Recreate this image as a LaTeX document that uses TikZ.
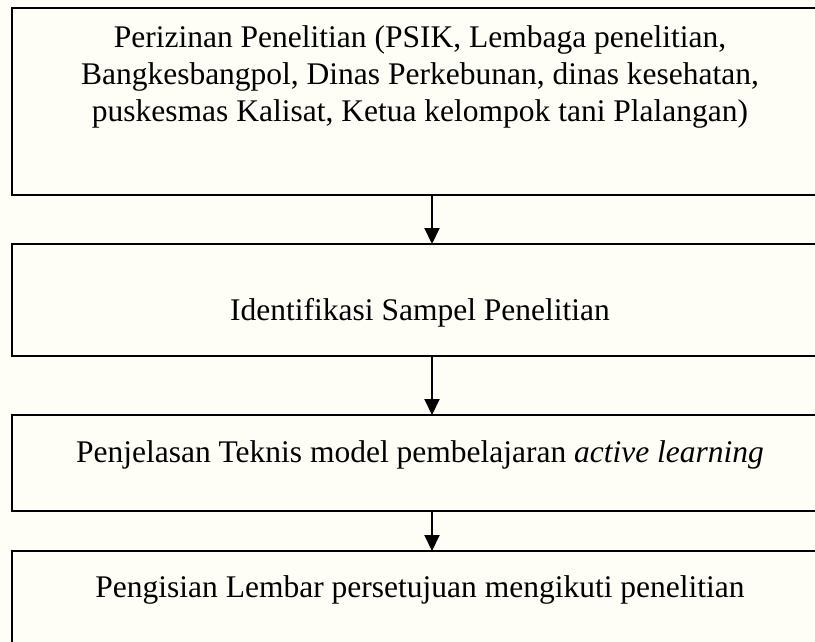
\documentclass[tikz,border=0pt]{standalone}
\usepackage{fontspec}
\setmainfont{Liberation Serif}
\usetikzlibrary{arrows.meta}
\definecolor{bgc}{HTML}{FEFEF7}
\tikzset{
  boxnode/.style={draw=black, line width=2.6pt, rectangle, anchor=north west, inner sep=0pt, outer sep=0pt},
  txt/.style={inner sep=0pt, align=center, font=\fontsize{31.5}{36.6}\selectfont},
  arr/.style={line width=2pt, -{Triangle[length=16pt,width=15pt]}}
}
\begin{document}
\begin{tikzpicture}[x=1pt,y=-1pt]
\fill[bgc] (0,0) rectangle (815,641);
\useasboundingbox (0,0) rectangle (815,641);
\clip (0,0) rectangle (815,641);
\coordinate (ax) at (432,0);
\node[boxnode, minimum width=840pt, minimum height=187pt] (b1) at (12,8) {};
\node[boxnode, minimum width=840pt, minimum height=112pt] (b2) at (12,244) {};
\node[boxnode, minimum width=840pt, minimum height=96pt] (b3) at (12,415) {};
\node[boxnode, minimum width=840pt, minimum height=160pt] (b4) at (12,551) {};
\node[txt] (t1) at (420,77) {Perizinan Penelitian (PSIK, Lembaga penelitian,\\Bangkesbangpol, Dinas Perkebunan, dinas kesehatan,\\puskesmas Kalisat, Ketua kelompok tani Plalangan)};
\node[txt] (t2) at (420,313) {Identifikasi Sampel Penelitian};
\node[txt] (t3) at (420,455) {Penjelasan Teknis model pembelajaran \textit{active learning}};
\node[txt] (t4) at (420,590) {Pengisian Lembar persetujuan mengikuti penelitian};
\draw[arr] (b1.south -| ax) -- (b2.north -| ax);
\draw[arr] (b2.south -| ax) -- (b3.north -| ax);
\draw[arr] (b3.south -| ax) -- (b4.north -| ax);
\end{tikzpicture}
\end{document}
